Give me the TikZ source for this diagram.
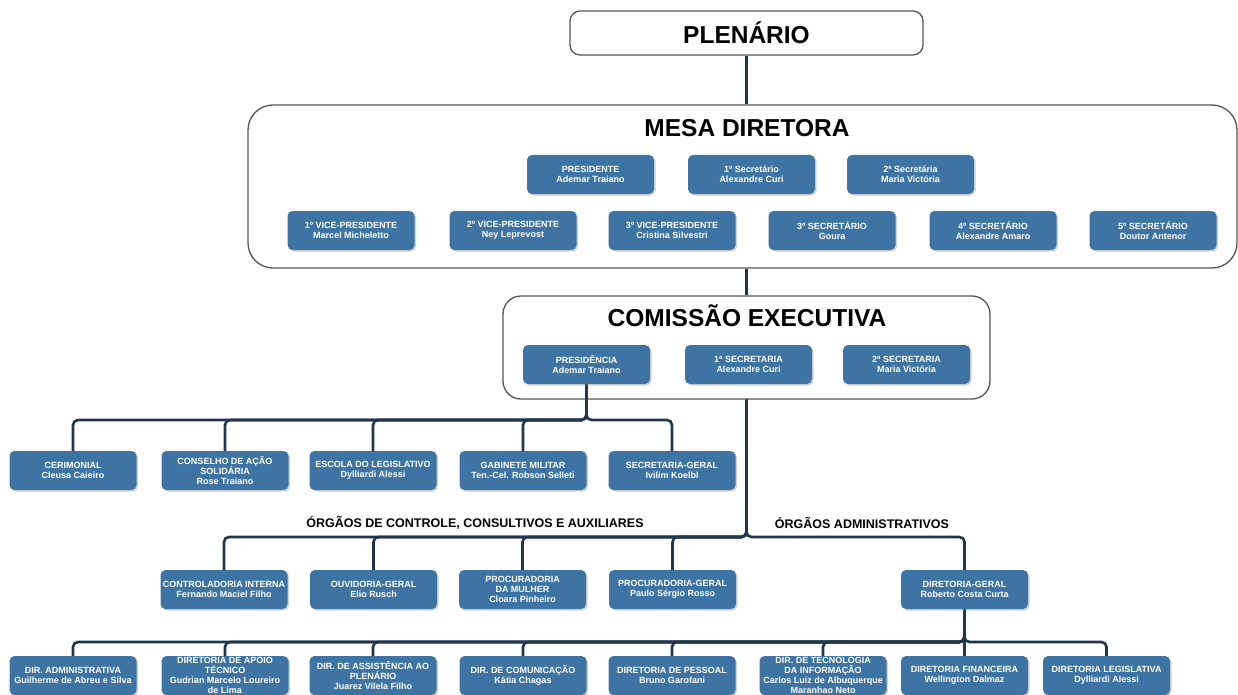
\documentclass[tikz,border=0pt]{standalone}
\usepackage{fontspec}
\setmainfont{Liberation Sans}
\usetikzlibrary{shadows}
\pgfdeclarelayer{frames}
\pgfdeclarelayer{links}
\pgfsetlayers{frames,links,main}
\definecolor{boxblue}{RGB}{62,116,163}
\definecolor{linkcol}{RGB}{32,54,78}
\definecolor{framecol}{RGB}{85,85,85}
\tikzset{
  orgbox/.style={fill=boxblue, rounded corners=5pt, minimum width=127pt, minimum height=39pt,
    text=white, font=\bfseries\fontsize{9}{10}\selectfont, align=center, inner sep=1pt,
    drop shadow={shadow xshift=1.5pt, shadow yshift=-1.5pt, opacity=0.35}},
  frame/.style={draw=framecol, line width=1.3pt, fill=white},
  bigtitle/.style={font=\bfseries\fontsize{24.5}{28}\selectfont},
  grouplabel/.style={font=\bfseries\fontsize{12.5}{14}\selectfont},
  link/.style={draw=linkcol, line width=2.6pt, rounded corners=5pt}
}
\begin{document}
\begin{tikzpicture}[x=1pt,y=-1pt]
\useasboundingbox (0,0) rectangle (1238,695);
% frames
\begin{pgfonlayer}{frames}
\node[frame, rounded corners=10pt, minimum width=353pt, minimum height=44pt, bigtitle] (plenario) at (746.5,33) {PLENÁRIO};
\node[frame, rounded corners=25pt, minimum width=989pt, minimum height=163pt] (mesa) at (742.5,186.5) {};
\node[bigtitle] (mesatitle) at (747,128) {MESA DIRETORA};
\node[frame, rounded corners=18pt, minimum width=487pt, minimum height=103pt] (comissao) at (746.5,347.5) {};
\node[bigtitle] (comtitle) at (747,316) {COMISSÃO EXECUTIVA};
\end{pgfonlayer}
% mesa diretora
\node[orgbox] (pres) at (590.5,174.5) {PRESIDENTE\\Ademar Traiano};
\node[orgbox] (sec1) at (751.5,174.5) {1º Secretário\\Alexandre Curi};
\node[orgbox] (sec2) at (910.5,174.5) {2ª Secretária\\Maria Victória};
\node[orgbox] (vp1) at (351,230.5) {1º VICE-PRESIDENTE\\Marcel Micheletto};
\node[orgbox] (vp2) at (513,230.5) {2º VICE-PRESIDENTE\\Ney Leprevost};
\node[orgbox] (vp3) at (672,230.5) {3º VICE-PRESIDENTE\\Cristina Silvestri};
\node[orgbox] (sec3) at (832,230.5) {3º SECRETÁRIO\\Goura};
\node[orgbox] (sec4) at (993,230.5) {4º SECRETÁRIO\\Alexandre Amaro};
\node[orgbox] (sec5) at (1153,230.5) {5º SECRETÁRIO\\Doutor Antenor};
% comissao executiva
\node[orgbox] (cpres) at (586.5,364.5) {PRESIDÊNCIA\\Ademar Traiano};
\node[orgbox] (csec1) at (748.5,364.5) {1ª SECRETARIA\\Alexandre Curi};
\node[orgbox] (csec2) at (906.5,364.5) {2ª SECRETARIA\\Maria Victória};
% ligados a presidencia
\node[orgbox] (cerim) at (73,470.5) {CERIMONIAL\\Cleusa Caieiro};
\node[orgbox] (conselho) at (225,470.5) {CONSELHO DE AÇÃO\\SOLIDÁRIA\\Rose Traiano};
\node[orgbox] (escola) at (373,470.5) {ESCOLA DO LEGISLATIVO\\Dylliardi Alessi};
\node[orgbox] (gabinete) at (523,470.5) {GABINETE MILITAR\\Ten.-Cel. Robson Selleti};
\node[orgbox] (secger) at (672,470.5) {SECRETARIA-GERAL\\Ivilim Koelbl};
% orgaos
\node[grouplabel] (lbl1) at (475,523) {ÓRGÃOS DE CONTROLE, CONSULTIVOS E AUXILIARES};
\node[grouplabel] (lbl2) at (862,523) {ÓRGÃOS ADMINISTRATIVOS};
\node[orgbox] (contr) at (224,589.5) {CONTROLADORIA INTERNA\\Fernando Maciel Filho};
\node[orgbox] (ouv) at (373.5,589.5) {OUVIDORIA-GERAL\\Elio Rusch};
\node[orgbox] (procm) at (522.5,589.5) {PROCURADORIA\\DA MULHER\\Cloara Pinheiro};
\node[orgbox] (procg) at (672.5,589.5) {PROCURADORIA-GERAL\\Paulo Sérgio Rosso};
\node[orgbox] (dirger) at (964.5,589.5) {DIRETORIA-GERAL\\Roberto Costa Curta};
% diretorias
\node[orgbox] (dadm) at (73,675.5) {DIR. ADMINISTRATIVA\\Guilherme de Abreu e Silva};
\node[orgbox] (dapoio) at (225,675.5) {DIRETORIA DE APOIO\\TÉCNICO\\Gudrian Marcelo Loureiro\\de Lima};
\node[orgbox] (dassist) at (373,675.5) {DIR. DE ASSISTÊNCIA AO\\PLENÁRIO\\Juarez Vilela Filho};
\node[orgbox] (dcom) at (523,675.5) {DIR. DE COMUNICAÇÃO\\Kátia Chagas};
\node[orgbox] (dpess) at (672,675.5) {DIRETORIA DE PESSOAL\\Bruno Garofani};
\node[orgbox] (dtec) at (823,675.5) {DIR. DE TECNOLOGIA\\DA INFORMAÇÃO\\Carlos Luiz de Albuquerque\\Maranhao Neto};
\node[orgbox] (dfin) at (964.5,675.5) {DIRETORIA FINANCEIRA\\Wellington Dalmaz};
\node[orgbox] (dleg) at (1106.5,675.5) {DIRETORIA LEGISLATIVA\\Dylliardi Alessi};
% bus points
\coordinate (bus1) at (586.5,420);
\coordinate (bus2) at (746.5,537);
\coordinate (bus3) at (964.5,642);
% links
\begin{pgfonlayer}{links}
\draw[link] (plenario.south) -- (plenario.south |- mesa.north);
\draw[link] (mesa.south -| plenario.south) -- (comissao.north);
\foreach \c in {cerim,conselho,escola,gabinete,secger}
  \draw[link] (cpres.south) -- (bus1) -| (\c.north);
\foreach \c in {contr,ouv,procm,procg,dirger}
  \draw[link] (comissao.south) -- (bus2) -| (\c.north);
\foreach \c in {dadm,dapoio,dassist,dcom,dpess,dtec,dfin,dleg}
  \draw[link] (dirger.south) -- (bus3) -| (\c.north);
\end{pgfonlayer}
\end{tikzpicture}
\end{document}
